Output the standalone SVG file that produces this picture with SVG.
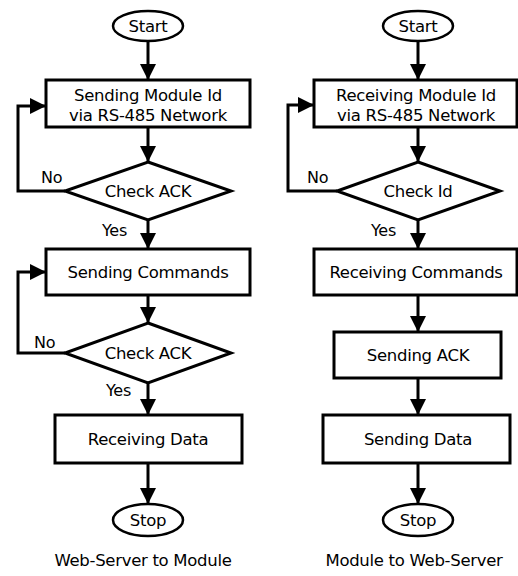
<svg xmlns="http://www.w3.org/2000/svg" width="518" height="576" viewBox="0 0 518 576">
<style>
.shape{fill:#fff;stroke:#000;stroke-width:3}
.ell{fill:#fff;stroke:#000;stroke-width:2.5}
.conn{fill:none;stroke:#000;stroke-width:3}
text{font-family:"DejaVu Sans",Verdana,sans-serif;font-size:16.5px;letter-spacing:-0.3px;fill:#000}
.c{text-anchor:middle}
.lbl{font-size:16px}
</style>
<defs>
<marker id="ah" markerUnits="userSpaceOnUse" markerWidth="16" markerHeight="16" viewBox="0 0 16 16" refX="16" refY="8" orient="auto">
<path d="M0,0 L16,8 L0,16 Z" fill="#000"/>
</marker>
</defs>
<rect width="518" height="576" fill="#fff"/>
<g id="connectors">
<line class="conn" x1="148" y1="41" x2="148" y2="80" marker-end="url(#ah)"/>
<line class="conn" x1="148" y1="127" x2="148" y2="162" marker-end="url(#ah)"/>
<polyline class="conn" points="65,191 18,191 18,106 46,106" marker-end="url(#ah)"/>
<line class="conn" x1="148" y1="220" x2="148" y2="249" marker-end="url(#ah)"/>
<line class="conn" x1="148" y1="295" x2="148" y2="323" marker-end="url(#ah)"/>
<polyline class="conn" points="65,353 18,353 18,272 46,272" marker-end="url(#ah)"/>
<line class="conn" x1="148" y1="383" x2="148" y2="415" marker-end="url(#ah)"/>
<line class="conn" x1="148" y1="463" x2="148" y2="504" marker-end="url(#ah)"/>
<line class="conn" x1="418" y1="41" x2="418" y2="80" marker-end="url(#ah)"/>
<line class="conn" x1="418" y1="127" x2="418" y2="162" marker-end="url(#ah)"/>
<polyline class="conn" points="337,191 288,191 288,105 314,105" marker-end="url(#ah)"/>
<line class="conn" x1="418" y1="220" x2="418" y2="249" marker-end="url(#ah)"/>
<line class="conn" x1="418" y1="295" x2="418" y2="332" marker-end="url(#ah)"/>
<line class="conn" x1="418" y1="378" x2="418" y2="415" marker-end="url(#ah)"/>
<line class="conn" x1="418" y1="463" x2="418" y2="504" marker-end="url(#ah)"/>
<text class="lbl" x="41" y="183">No</text>
<text class="lbl" x="102" y="236">Yes</text>
<text class="lbl" x="34" y="348">No</text>
<text class="lbl" x="106" y="396">Yes</text>
<text class="lbl" x="307" y="183">No</text>
<text class="lbl" x="371" y="236">Yes</text>
</g>
<g id="start1"><ellipse class="ell" cx="148" cy="26" rx="35" ry="15"/><text class="c" x="148" y="32">Start</text></g>
<g id="send-id"><rect class="shape" x="46" y="80" width="204" height="47"/><text class="c" x="148" y="101">Sending Module Id</text><text class="c" x="148" y="121">via RS-485 Network</text></g>
<g id="check-ack1"><polygon class="shape" points="148,162 231,191 148,220 65,191"/><text class="c" x="148" y="197">Check ACK</text></g>
<g id="send-cmd"><rect class="shape" x="46" y="249" width="204" height="46"/><text class="c" x="148" y="278">Sending Commands</text></g>
<g id="check-ack2"><polygon class="shape" points="148,323 231,353 148,383 65,353"/><text class="c" x="148" y="359">Check ACK</text></g>
<g id="recv-data"><rect class="shape" x="55" y="415" width="187" height="48"/><text class="c" x="148" y="445">Receiving Data</text></g>
<g id="stop1"><ellipse class="ell" cx="148" cy="520" rx="35" ry="16"/><text class="c" x="148" y="526">Stop</text></g>
<g id="caption1"><text class="c" x="143" y="566">Web-Server to Module</text></g>
<g id="start2"><ellipse class="ell" cx="418" cy="26" rx="35" ry="15"/><text class="c" x="418" y="32">Start</text></g>
<g id="recv-id"><rect class="shape" x="314" y="80" width="203" height="47"/><text class="c" x="416" y="101">Receiving Module Id</text><text class="c" x="416" y="121">via RS-485 Network</text></g>
<g id="check-id"><polygon class="shape" points="418,162 500,191 418,220 337,191"/><text class="c" x="418" y="197">Check Id</text></g>
<g id="recv-cmd"><rect class="shape" x="314" y="249" width="203" height="46"/><text class="c" x="416" y="278">Receiving Commands</text></g>
<g id="send-ack"><rect class="shape" x="334" y="332" width="167" height="46"/><text class="c" x="418" y="361">Sending ACK</text></g>
<g id="send-data"><rect class="shape" x="323" y="415" width="187" height="48"/><text class="c" x="418" y="445">Sending Data</text></g>
<g id="stop2"><ellipse class="ell" cx="418" cy="520" rx="35" ry="16"/><text class="c" x="418" y="526">Stop</text></g>
<g id="caption2"><text class="c" x="414" y="566">Module to Web-Server</text></g>
</svg>
